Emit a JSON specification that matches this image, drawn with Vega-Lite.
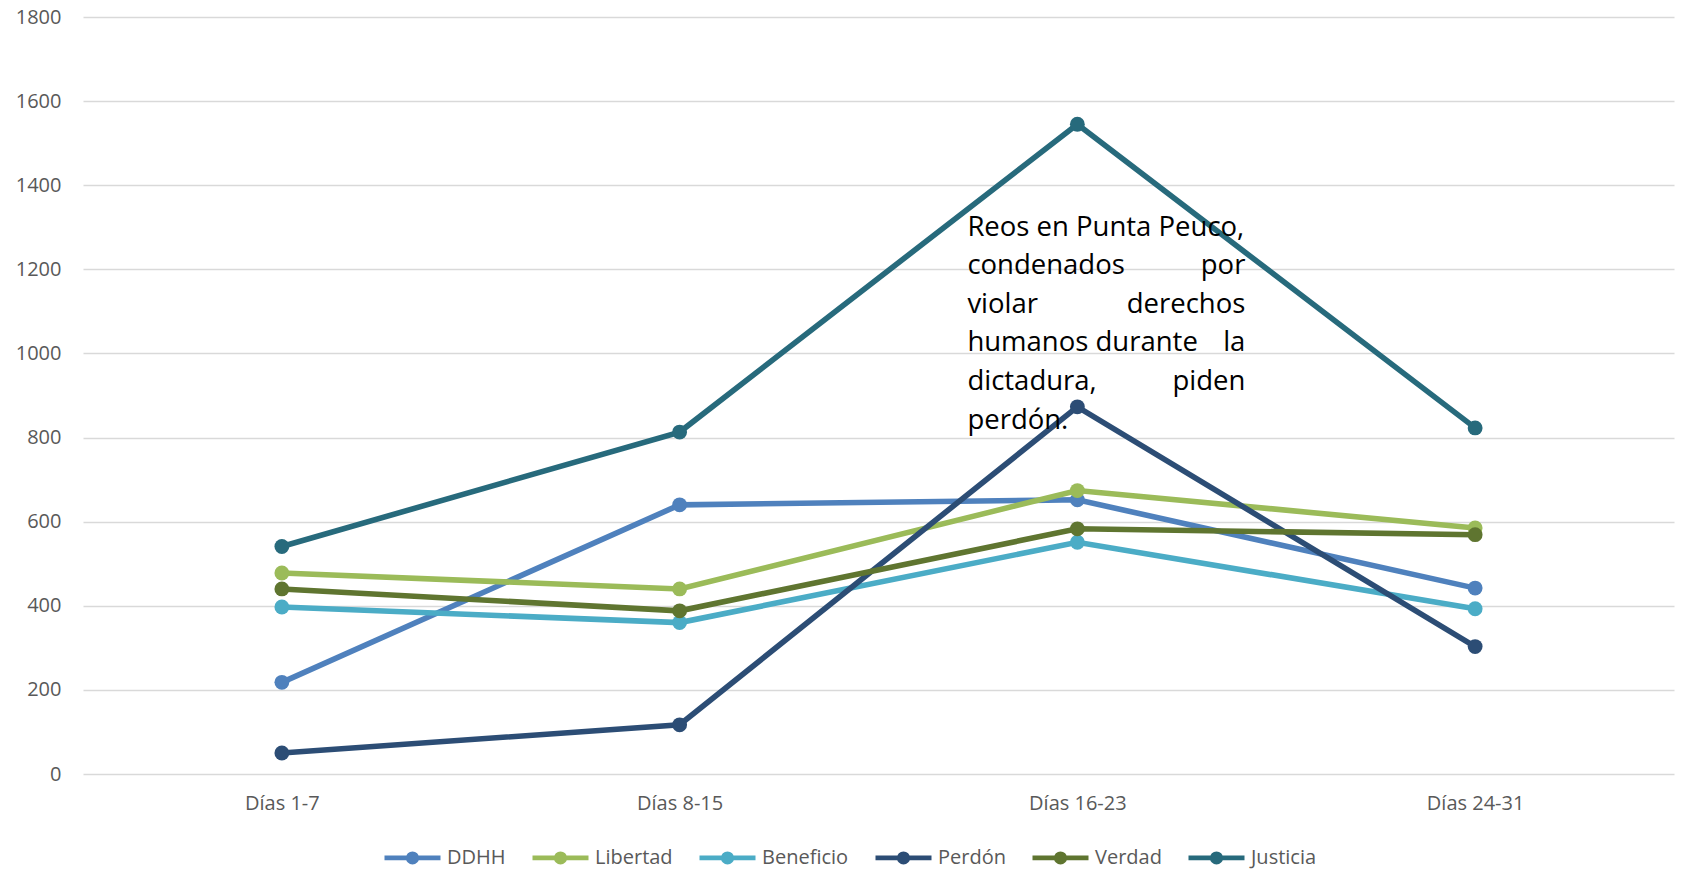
{
  "$schema": "https://vega.github.io/schema/vega-lite/v6.json",
  "width": 1591,
  "height": 757,
  "autosize": {"type": "none"},
  "padding": {"left": 83, "top": 17, "right": 7, "bottom": 96},
  "background": "white",
  "config": {"view": {"stroke": null}, "font": "Open Sans"},
  "data": {
    "values": [
      {"periodo": "Días 1-7", "serie": "DDHH", "valor": 218},
      {"periodo": "Días 8-15", "serie": "DDHH", "valor": 640},
      {"periodo": "Días 16-23", "serie": "DDHH", "valor": 652},
      {"periodo": "Días 24-31", "serie": "DDHH", "valor": 442},
      {"periodo": "Días 1-7", "serie": "Libertad", "valor": 478},
      {"periodo": "Días 8-15", "serie": "Libertad", "valor": 440},
      {"periodo": "Días 16-23", "serie": "Libertad", "valor": 674},
      {"periodo": "Días 24-31", "serie": "Libertad", "valor": 585},
      {"periodo": "Días 1-7", "serie": "Beneficio", "valor": 397},
      {"periodo": "Días 8-15", "serie": "Beneficio", "valor": 360},
      {"periodo": "Días 16-23", "serie": "Beneficio", "valor": 551},
      {"periodo": "Días 24-31", "serie": "Beneficio", "valor": 393},
      {"periodo": "Días 1-7", "serie": "Perdón", "valor": 50},
      {"periodo": "Días 8-15", "serie": "Perdón", "valor": 117},
      {"periodo": "Días 16-23", "serie": "Perdón", "valor": 873},
      {"periodo": "Días 24-31", "serie": "Perdón", "valor": 303},
      {"periodo": "Días 1-7", "serie": "Verdad", "valor": 440},
      {"periodo": "Días 8-15", "serie": "Verdad", "valor": 388},
      {"periodo": "Días 16-23", "serie": "Verdad", "valor": 583},
      {"periodo": "Días 24-31", "serie": "Verdad", "valor": 569},
      {"periodo": "Días 1-7", "serie": "Justicia", "valor": 541},
      {"periodo": "Días 8-15", "serie": "Justicia", "valor": 813},
      {"periodo": "Días 16-23", "serie": "Justicia", "valor": 1545},
      {"periodo": "Días 24-31", "serie": "Justicia", "valor": 823}
    ]
  },
  "encoding": {
    "x": {
      "field": "periodo",
      "type": "ordinal",
      "sort": ["Días 1-7", "Días 8-15", "Días 16-23", "Días 24-31"],
      "scale": {"type": "point", "padding": 0.5},
      "axis": {
        "title": null,
        "labelAngle": 0,
        "domain": false,
        "ticks": false,
        "grid": false,
        "labelPadding": 19,
        "labelFontSize": 20,
        "labelColor": "#595959"
      }
    },
    "y": {
      "type": "quantitative",
      "scale": {"domain": [0, 1800], "nice": false},
      "axis": {
        "title": null,
        "values": [0, 200, 400, 600, 800, 1000, 1200, 1400, 1600, 1800],
        "format": "d",
        "domain": false,
        "ticks": false,
        "grid": true,
        "gridColor": "#d9d9d9",
        "gridWidth": 1.3,
        "labelPadding": 22,
        "labelFontSize": 20,
        "labelColor": "#595959"
      }
    }
  },
  "layer": [
    {
      "mark": {"type": "line", "strokeWidth": 5.6, "point": {"filled": true, "size": 220, "opacity": 1}},
      "encoding": {
        "y": {"field": "valor"},
        "color": {
          "field": "serie",
          "type": "nominal",
          "scale": {
            "domain": ["DDHH", "Libertad", "Beneficio", "Perdón", "Verdad", "Justicia"],
            "range": ["#4F81BD", "#9BBB59", "#4BACC6", "#2C4D75", "#5F7530", "#276A7C"]
          },
          "legend": {
            "title": null,
            "orient": "none",
            "direction": "horizontal",
            "legendX": 299,
            "legendY": 810,
            "symbolType": "M-1,0L1,0M-0.15,0A0.15,0.15 0 1,1 0.15,0A0.15,0.15 0 1,1 -0.15,0Z",
            "symbolSize": 3136,
            "symbolStrokeWidth": 4.7,
            "labelFontSize": 20,
            "labelColor": "#595959",
            "labelOffset": 4,
            "columnPadding": 17,
            "encode": {
              "symbols": {
                "update": {
                  "fill": {"scale": "color", "field": "value"},
                  "stroke": {"scale": "color", "field": "value"},
                  "opacity": {"value": 1}
                }
              }
            }
          }
        }
      }
    },
    {
      "data": {"values": [{}]},
      "mark": {
        "type": "text",
        "align": "left",
        "baseline": "alphabetic",
        "fontSize": 27.5,
        "lineHeight": 38.6,
        "color": "black",
        "dx": -110,
        "text": ["Reos en Punta Peuco,", "condenados", "violar", "humanos durante", "dictadura,", "perdón."]
      },
      "encoding": {
        "x": {"datum": "Días 16-23"},
        "y": {"datum": 1280}
      }
    },
    {
      "data": {"values": [{}]},
      "mark": {
        "type": "text",
        "align": "right",
        "baseline": "alphabetic",
        "fontSize": 27.5,
        "lineHeight": 38.6,
        "color": "black",
        "dx": 168,
        "dy": 38.6,
        "text": ["por", "derechos", "la", "piden"]
      },
      "encoding": {
        "x": {"datum": "Días 16-23"},
        "y": {"datum": 1280}
      }
    }
  ]
}
